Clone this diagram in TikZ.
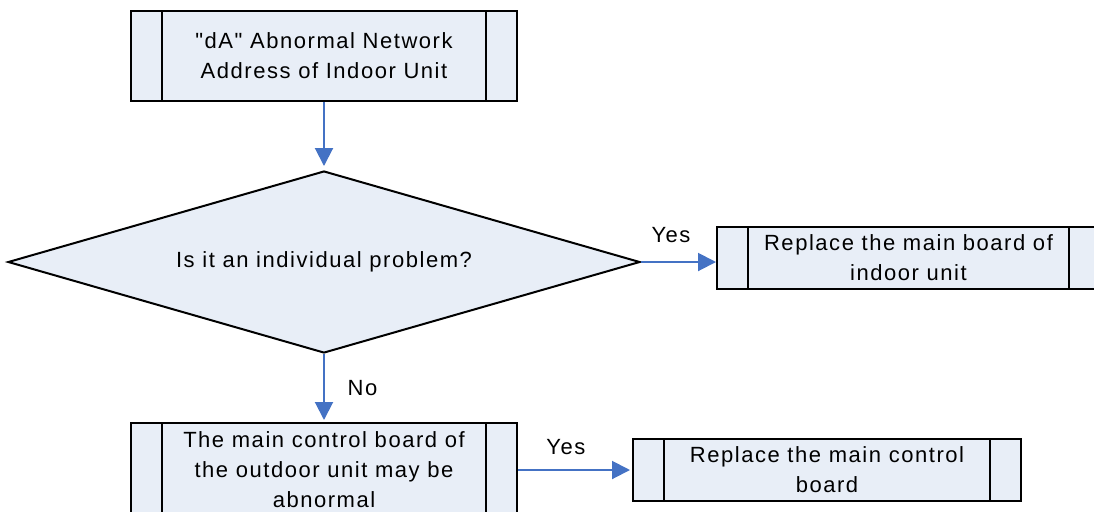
\documentclass[tikz,border=0pt]{standalone}
\usepackage{fontspec}
\setmainfont[LetterSpace=7, Ligatures=TeXOff]{Liberation Sans}
\usepackage{xcolor}
\usepackage{tikz}
\usetikzlibrary{shapes.geometric, arrows.meta, positioning}
\definecolor{flowblue}{RGB}{68,114,196}
\definecolor{boxfill}{RGB}{232,238,247}

\begin{document}
\begin{tikzpicture}[
  x=0.5pt, y=-0.5pt,
  subproc/.style={draw=black, fill=boxfill, line width=1pt,
              minimum width=193pt, minimum height=31pt, inner sep=0pt,
              font=\fontsize{11}{15}\selectfont, align=center,
              path picture={
                \draw[line width=1pt] ([xshift=15.5pt]path picture bounding box.north west)
                  -- ([xshift=15.5pt]path picture bounding box.south west);
                \draw[line width=1pt] ([xshift=-15.5pt]path picture bounding box.north east)
                  -- ([xshift=-15.5pt]path picture bounding box.south east);}},
  decision/.style={diamond, draw=black, fill=boxfill, line width=1pt,
              minimum width=316pt, minimum height=91pt, aspect=3.47, inner sep=0pt,
              font=\fontsize{11}{15}\selectfont},
  arrow/.style={-{Triangle[length=9pt,width=9pt]}, line width=1pt, color=flowblue},
  lbl/.style={font=\fontsize{11}{15}\selectfont, text=black}
]
\useasboundingbox (0,0) rectangle (1094,511);

\node[subproc, minimum height=45pt] (alarm) at (324,56)
  {"dA" Abnormal Network\\Address of Indoor Unit};
\node[decision] (single) at (324,262) {Is it an individual problem?};
\node[subproc, minimum width=191.5pt] (indoor) at (908.5,258)
  {Replace the main board of\\indoor unit};
\node[subproc, minimum height=47pt] (outdoor) at (324,470)
  {The main control board of\\the outdoor unit may be\\abnormal};
\node[subproc, minimum width=194pt] (mainbd) at (827,470)
  {Replace the main control\\board};

\draw[arrow, shorten >=2pt] (alarm) -- (single);
\draw[arrow] (single.east) -- (single.east -| indoor.west)
  node[lbl, above=6pt, pos=0.4] (yes1) {Yes};
\draw[arrow, shorten >=1pt] (single.south) -- (outdoor.north)
  node[lbl, right=8pt, midway] (no1) {No};
\draw[arrow, shorten >=1pt] (outdoor) -- (mainbd)
  node[lbl, above=4pt, pos=0.42] (yes2) {Yes};
\end{tikzpicture}
\end{document}
